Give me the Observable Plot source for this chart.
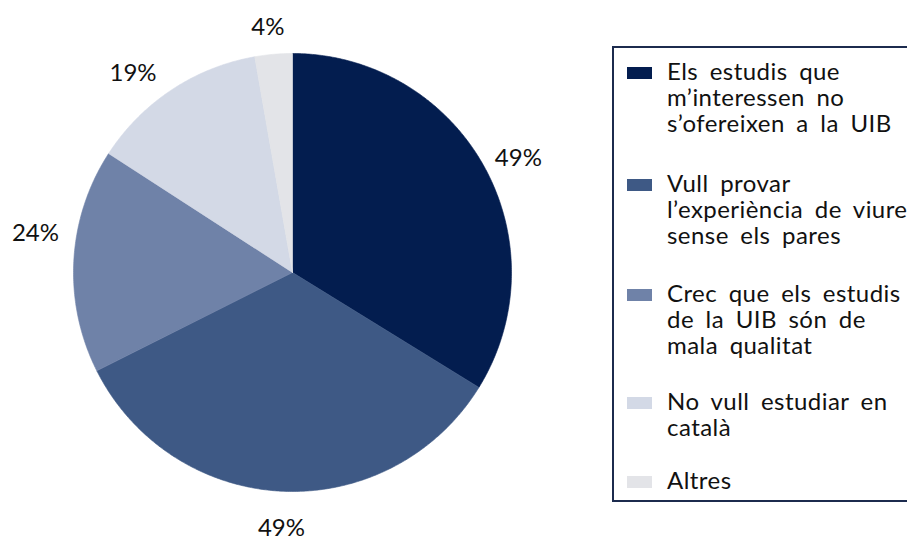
<!DOCTYPE html>
<html>
<head>
<meta charset="utf-8">
<script src="https://cdn.jsdelivr.net/npm/d3@7"></script>
<script src="https://cdn.jsdelivr.net/npm/@observablehq/plot@0.6"></script>
<style>
  html, body { margin: 0; padding: 0; background: #fff; }
  #wrap { position: relative; width: 907px; height: 541px; overflow: hidden; font-family: Lato, "Noto Sans", sans-serif; }
  #chart { position: absolute; left: 0; top: 0; }
  #legend { position: absolute; left: 612px; top: 46px; width: 400px; height: 456px; border: 2px solid #1c2b4e; box-sizing: border-box; background: transparent; }
  .item { position: absolute; left: 0; }
  .sw { position: absolute; left: 13px; top: 9px; width: 25px; height: 12px; }
  .txt { position: absolute; left: 53px; top: 0; font-size: 24px; line-height: 26px; color: #111; white-space: pre; word-spacing: 5px; letter-spacing: 0.45px; }
</style>
</head>
<body>
<div id="wrap"><div id="chart"></div><div id="legend"></div></div>
<script>
const categories = [
  "Els estudis que m’interessen no s’ofereixen a la UIB",
  "Vull provar l’experiència de viure sense els pares",
  "Crec que els estudis de la UIB són de mala qualitat",
  "No vull estudiar en català",
  "Altres"
];
const legendLines = [
  ["Els estudis que", "m’interessen no", "s’ofereixen a la UIB"],
  ["Vull provar", "l’experiència de viure", "sense els pares"],
  ["Crec que els estudis", "de la UIB són de", "mala qualitat"],
  ["No vull estudiar en", "català"],
  ["Altres"]
];
const values = [49, 49, 24, 19, 4];
const labels = ["49%", "49%", "24%", "19%", "4%"];
const colors = ["#031d4f", "#3e5985", "#6f82a8", "#d3d9e6", "#e3e4e8"];

// layout (not data)
const W = 907, H = 541, cx = 292, cy = 272, R = 219;
const labelLayout = {radius: [1.155, 1.169, 1.187, 1.164, 1.123], nudgeDeg: [2.4, 0, 5.5, -5.2, -0.8]};
const legendTops = [10, 122, 232, 340, 419];

const data = categories.map((c, i) => ({key: c, value: values[i], label: labels[i]}));
const arcs = d3.pie().sort(null).value(d => d.value).startAngle(0).endAngle(2 * Math.PI)(data);

const pts = [];
for (const a of arcs) {
  pts.push({key: a.data.key, x: 0, y: 0});
  const n = Math.max(8, Math.ceil((a.endAngle - a.startAngle) * 120));
  for (let k = 0; k <= n; k++) {
    const t = a.startAngle + (a.endAngle - a.startAngle) * k / n;
    pts.push({key: a.data.key, x: Math.sin(t), y: Math.cos(t)});
  }
  pts.push({key: a.data.key, x: 0, y: 0});
}
const labelPts = arcs.map((a, i) => {
  const t = (a.startAngle + a.endAngle) / 2 + labelLayout.nudgeDeg[i] * Math.PI / 180;
  const r = labelLayout.radius[i];
  return {label: a.data.label, x: r * Math.sin(t), y: r * Math.cos(t)};
});

const chart = Plot.plot({
  width: W, height: H,
  margin: 0,
  x: {domain: [-cx / R, (W - cx) / R], axis: null},
  y: {domain: [-(H - cy) / R, cy / R], axis: null},
  color: {domain: categories, range: colors},
  style: {fontFamily: "Lato, 'Noto Sans', sans-serif", background: "transparent"},
  marks: [
    Plot.line(pts, {x: "x", y: "y", z: "key", fill: "key", stroke: "key", strokeWidth: 0.6, curve: "linear"}),
    Plot.text(labelPts, {x: "x", y: "y", text: "label", fontSize: 24, fill: "#111"})
  ]
});
document.getElementById("chart").appendChild(chart);

const leg = document.getElementById("legend");
legendLines.forEach((lines, i) => {
  const it = document.createElement("div");
  it.className = "item";
  it.style.top = legendTops[i] + "px";
  const sw = document.createElement("div");
  sw.className = "sw";
  sw.style.background = colors[i];
  it.appendChild(sw);
  const t = document.createElement("div");
  t.className = "txt";
  t.textContent = lines.join("\n");
  it.appendChild(t);
  leg.appendChild(it);
});
</script>
</body>
</html>
